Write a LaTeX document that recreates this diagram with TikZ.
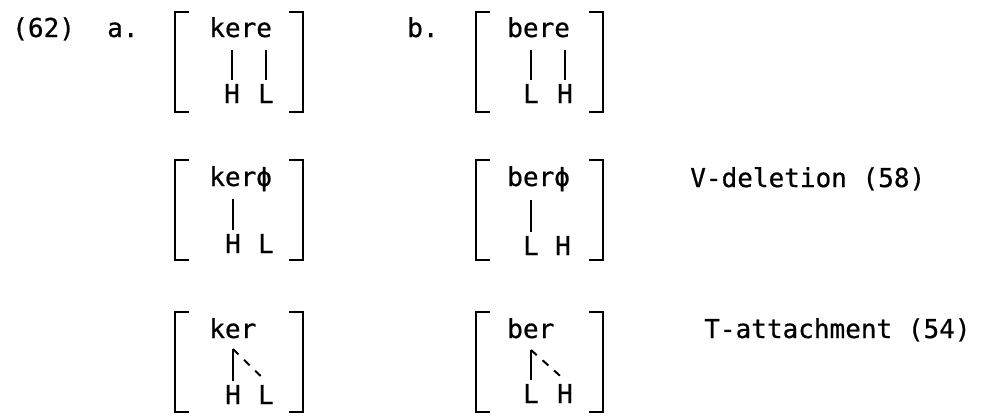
\documentclass[tikz,border=0pt]{standalone}
\usepackage{fontspec}
\newfontfamily\typewr{DejaVu Sans Mono}[FakeBold=0.6]
\usetikzlibrary{positioning}

\begin{document}
\begin{tikzpicture}[
            x=0.025cm, y=-0.025cm,
            font=\typewr\fontsize{18.5}{22}\selectfont,
            word/.style={anchor=base west, inner sep=0pt},
            tone/.style={anchor=base, inner sep=2.5pt},
            assoc/.style={line width=1pt},
            newassoc/.style={line width=1.4pt, dash pattern=on 5.5pt off 5.5pt},
            brack/.style={line width=2pt, line cap=rect}
        ]

        \useasboundingbox (0,0) rectangle (990,415);

        % labels
        \node (num)  [word] at (12,37) {(62)};
        \node (lbla) [word] at (107,37) {a.};
        \node (lblb) [word] at (407,37) {b.};
        \node (vdel) [word] at (690,187) {V-deletion (58)};
        \node (tatt) [word] at (704,338) {T-attachment (54)};

        % brackets
        \foreach \top in {12,160,312} {
            \draw [brack] (188,\top) -- (175,\top) -- (175,\top+100) -- (188,\top+100);
            \draw [brack] (290,\top) -- (303,\top) -- (303,\top+100) -- (290,\top+100);
            \draw [brack] (489,\top) -- (476,\top) -- (476,\top+100) -- (489,\top+100);
            \draw [brack] (590,\top) -- (603,\top) -- (603,\top+100) -- (590,\top+100);
        }

        % row 1: underlying forms
        \node (kere) [word] at (209,37) {kere};
        \node (bere) [word] at (507,37) {bere};
        \node (ha1) [tone] at (232,103) {H};
        \node (la1) [tone] at (266,103) {L};
        \node (lb1) [tone] at (531,103) {L};
        \node (hb1) [tone] at (565,103) {H};
        \coordinate (ka1) at (232,50);
        \coordinate (ka2) at (266,50);
        \coordinate (kb1) at (531,50);
        \coordinate (kb2) at (565,50);
        \draw [assoc] (ka1) -- (ka1 |- ha1.north);
        \draw [assoc] (ka2) -- (ka2 |- la1.north);
        \draw [assoc] (kb1) -- (kb1 |- lb1.north);
        \draw [assoc] (kb2) -- (kb2 |- hb1.north);

        % row 2: V-deletion
        \node (kerphi) [word] at (209,186) {kerϕ};
        \node (berphi) [word] at (507,186) {berϕ};
        \node (ha2) [tone] at (233,253) {H};
        \node (la2) [tone] at (266,253) {L};
        \node (lb2) [tone] at (531,255) {L};
        \node (hb2) [tone] at (563,255) {H};
        \coordinate (ka3) at (233,199);
        \coordinate (kb3) at (531,200);
        \draw [assoc] (ka3) -- (ka3 |- ha2.north);
        \draw [assoc] (kb3) -- (kb3 |- lb2.north);

        % row 3: T-attachment
        \node (ker) [word] at (209,338) {ker};
        \node (ber) [word] at (507,338) {ber};
        \node (ha3) [tone] at (233,404) {H};
        \node (la3) [tone] at (266,404) {L};
        \node (lb3) [tone] at (531,403) {L};
        \node (hb3) [tone] at (565,403) {H};
        \coordinate (ka4) at (233,349);
        \coordinate (kb4) at (531,350);
        \draw [assoc] (ka4) -- (ka4 |- ha3.north);
        \draw [newassoc] (ka4) -- (la3.north);
        \draw [assoc] (kb4) -- (kb4 |- lb3.north);
        \draw [newassoc] (kb4) -- (hb3.north);
        \end{tikzpicture}
\end{document}
